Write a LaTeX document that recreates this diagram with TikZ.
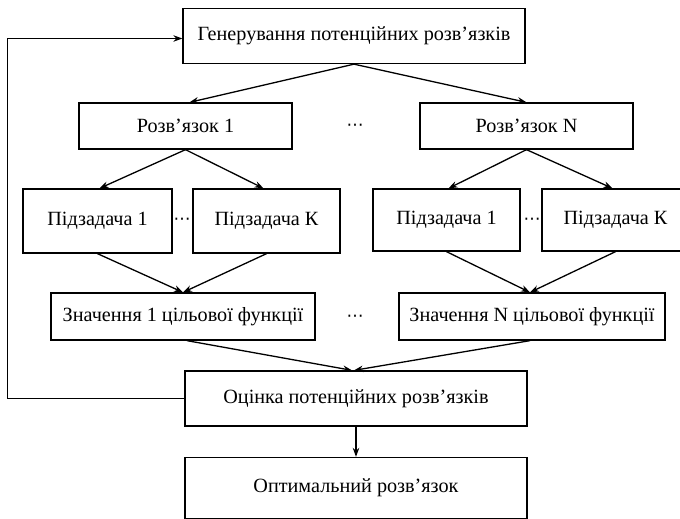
\documentclass[tikz,border=0pt]{standalone}
\usepackage{fontspec}
\setmainfont{Liberation Serif}
\newfontfamily\dotsfont{DejaVu Sans}
\usetikzlibrary{arrows.meta,calc}
\begin{document}
\begin{tikzpicture}[x=1pt,y=-1pt,
  box/.style={draw,line width=1.3pt,inner sep=0pt,align=center,
    font=\fontsize{20.2}{24}\selectfont},
  link/.style={line width=1.3pt,-{Stealth[length=9pt,width=6.5pt]}},
  gap/.style={inner sep=0pt,font=\dotsfont\fontsize{17}{20}\selectfont}]
\useasboundingbox (0,0) rectangle (680,519);
\clip (0,0) rectangle (680,519);

% top and bottom stages
\node[box,minimum width=342,minimum height=55] (gen) at (354,36) {Генерування потенційних розв’язків};
\node[box,minimum width=342,minimum height=55] (est) at (356,398.5) {Оцінка потенційних розв’язків};
\node[box,minimum width=342,minimum height=61] (opt) at (356,488) {Оптимальний розв’язок};

% candidate solutions
\node[box,minimum width=213,minimum height=46] (r1) at (185.5,126) {Розв’язок 1};
\node[box,minimum width=213,minimum height=46] (rN) at (526.5,126) {Розв’язок N};

% subtasks
\node[box,minimum width=149,minimum height=64] (p11) at (97.5,221) {Підзадача 1};
\node[box,minimum width=147,minimum height=64] (p1k) at (266.5,221) {Підзадача К};
\node[box,minimum width=147,minimum height=62] (pn1) at (446.5,220) {Підзадача 1};
\node[box,minimum width=147,minimum height=62] (pnk) at (615.5,220) {Підзадача К};

% objective values
\node[box,minimum width=264,minimum height=47] (z1) at (183,316.5) {Значення 1 цільової функції};
\node[box,minimum width=266,minimum height=47] (zN) at (532,316.5) {Значення N цільової функції};

% ellipses between groups
\node[gap] (d1) at (355,127) {⋯};
\node[gap] (d2) at (182,221) {⋯};
\node[gap] (d3) at (532,221) {⋯};
\node[gap] (d4) at (355,318) {⋯};

% connectors
\draw[link] (gen.south) -- ($(r1.north)+(4,0)$);
\draw[link] (gen.south) -- (rN.north);
\draw[link] (r1.south) -- ($(p11.north)+(2,0)$);
\draw[link] (r1.south) -- ($(p1k.north)+(-3,0)$);
\draw[link] (rN.south) -- ($(pn1.north)+(2,0)$);
\draw[link] (rN.south) -- ($(pnk.north)+(-3,0)$);
\draw[link] (p11.south) -- (z1.north);
\draw[link] (p1k.south) -- (z1.north);
\draw[link] (pn1.south) -- ($(zN.north)+(-2,0)$);
\draw[link] (pnk.south) -- ($(zN.north)+(-2,0)$);
\draw[link] ($(z1.south)+(4,0)$) -- ($(est.north)+(-4,0)$);
\draw[link] ($(zN.south)+(-2,0)$) -- ($(est.north)+(-2,0)$);
\draw[link] (est.south) -- (opt.north);

% feedback loop
\coordinate (fb) at (7.5,398.5);
\draw[link] (est.west) -- (fb) |- ($(gen.west)+(0,2.5)$);
\end{tikzpicture}
\end{document}
